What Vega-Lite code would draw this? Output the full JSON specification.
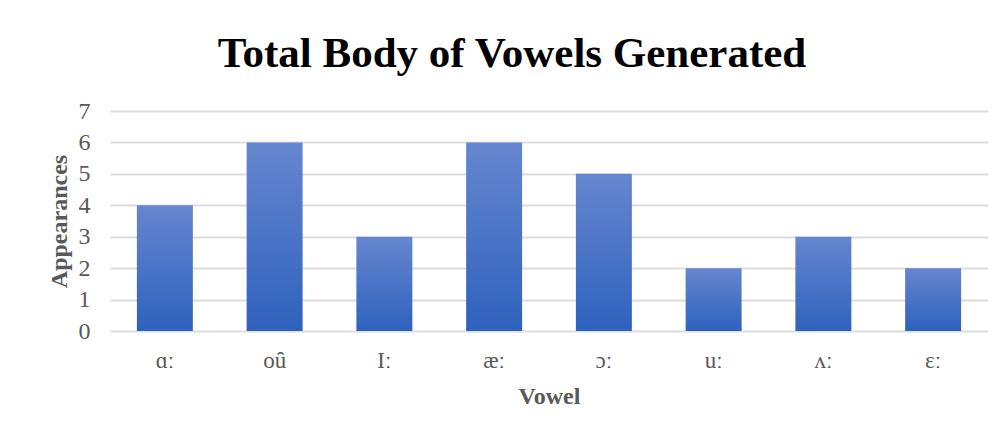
{
  "$schema": "https://vega.github.io/schema/vega-lite/v6.json",
  "width": 878,
  "height": 220,
  "autosize": "none",
  "padding": {"left": 110, "top": 111, "right": 17, "bottom": 107},
  "background": "white",
  "title": {
    "text": "Total Body of Vowels Generated",
    "font": "Liberation Serif",
    "fontSize": 43,
    "fontWeight": "bold",
    "color": "#000000",
    "anchor": "middle",
    "dx": -37,
    "dy": 43,
    "baseline": "alphabetic",
    "offset": 32
  },
  "data": {
    "values": [
      {"vowel": "ɑː", "count": 4},
      {"vowel": "oȗ", "count": 6},
      {"vowel": "Iː", "count": 3},
      {"vowel": "æː", "count": 6},
      {"vowel": "ɔː", "count": 5},
      {"vowel": "uː", "count": 2},
      {"vowel": "ʌː", "count": 3},
      {"vowel": "ɛː", "count": 2}
    ]
  },
  "mark": {
    "type": "bar",
    "color": {
      "gradient": "linear",
      "x1": 0, "y1": 0, "x2": 0, "y2": 1,
      "stops": [
        {"offset": 0, "color": "#6686CF"},
        {"offset": 1, "color": "#2E62BD"}
      ]
    }
  },
  "encoding": {
    "x": {
      "field": "vowel",
      "type": "nominal",
      "sort": null,
      "title": "Vowel",
      "scale": {"paddingInner": 0.49, "paddingOuter": 0.245},
      "axis": {
        "labelAngle": 0,
        "labelFont": "Liberation Serif",
        "labelFontSize": 23,
        "labelColor": "#595959",
        "labelPadding": 18,
        "ticks": false,
        "domain": false,
        "titleFont": "Liberation Serif",
        "titleFontSize": 24,
        "titleFontWeight": "bold",
        "titleColor": "#595959",
        "titlePadding": 12
      }
    },
    "y": {
      "field": "count",
      "type": "quantitative",
      "title": "Appearances",
      "scale": {"domain": [0, 7]},
      "axis": {
        "values": [0, 1, 2, 3, 4, 5, 6, 7],
        "labelFont": "Liberation Serif",
        "labelFontSize": 24,
        "labelColor": "#595959",
        "labelPadding": 20,
        "ticks": false,
        "domain": false,
        "grid": true,
        "gridColor": "#DADDE2",
        "gridWidth": 2,
        "titleFont": "Liberation Serif",
        "titleFontSize": 24,
        "titleFontWeight": "bold",
        "titleColor": "#595959",
        "titlePadding": 7
      }
    }
  },
  "config": {
    "view": {"stroke": null}
  }
}
